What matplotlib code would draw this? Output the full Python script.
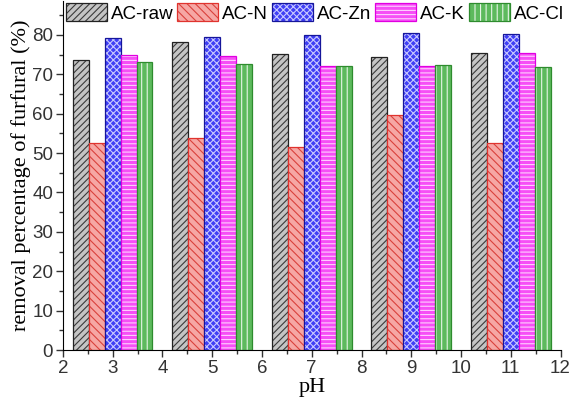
import numpy as np
import matplotlib
matplotlib.use("Agg")
import matplotlib.pyplot as plt
from matplotlib.ticker import MultipleLocator

ph = [3, 5, 7, 9, 11]
ac_raw = [73.7, 78.3, 75.1, 74.3, 75.5]
ac_n = [52.5, 53.8, 51.6, 59.6, 52.6]
ac_zn = [79.2, 79.5, 80.0, 80.5, 80.2]
ac_k = [74.9, 74.6, 72.2, 72.1, 75.5]
ac_cl = [73.0, 72.5, 72.2, 72.4, 71.8]
names = ["AC-raw", "AC-N", "AC-Zn", "AC-K", "AC-Cl"]

# face, hatch colour, edge colour, hatch
styles = [
    ("#c4c4c4", "#3a3a3a", "#222222", "/////"),
    ("#f6a7a4", "#d9413c", "#e0332e", "\\\\\\\\"),
    ("#3f3ff5", "#c8c8ff", "#16169a", "xxxxx"),
    ("#f64ff6", "#ffd0ff", "#e000e0", "----"),
    ("#5dba5d", "#e6f5e6", "#2e8b2e", "|||"),
]

plt.rcParams["font.family"] = ["Liberation Sans", "DejaVu Sans"]
plt.rcParams["hatch.linewidth"] = 0.8

fig = plt.figure(figsize=(5.72, 4.03), dpi=100)
ax = fig.add_axes([0.110, 0.1315, 0.870, 0.865])

w = 0.32
x = np.array(ph, dtype=float)
handles = []
for i, vals in enumerate([ac_raw, ac_n, ac_zn, ac_k, ac_cl]):
    fc, hc, ec, h = styles[i]
    pos = x + (i - 2) * w
    b1 = ax.bar(pos, vals, w, color=fc, edgecolor=hc, hatch=h, linewidth=0)
    b2 = ax.bar(pos, vals, w, fill=False, edgecolor=ec, linewidth=0.9)
    handles.append((b1, b2))

ax.set_xlim(2, 12)
ax.set_ylim(0, 88.5)
ax.xaxis.set_major_locator(MultipleLocator(1))
ax.xaxis.set_minor_locator(MultipleLocator(0.5))
ax.yaxis.set_minor_locator(MultipleLocator(5))
ax.set_yticks(range(0, 81, 10))
ax.spines["top"].set_visible(False)
ax.spines["right"].set_visible(False)
ax.tick_params(which="major", length=5, width=1, labelsize=13.5, pad=2, color="#333333", labelcolor="#333333")
ax.tick_params(which="minor", length=3, width=1, color="#333333")

ax.set_xlabel("pH", family="Liberation Serif", fontsize=16, labelpad=1)
ax.set_ylabel("removal percentage of furfural (%)", family="Liberation Serif", fontsize=16, labelpad=1)

fig.legend(handles, names, loc="upper left", bbox_to_anchor=(0.115, 0.992),
           ncol=5, frameon=False, fontsize=13.5, handlelength=2.2, handleheight=1.1,
           handletextpad=0.2, columnspacing=0.2, borderpad=0, borderaxespad=0)

fig.savefig("out.png", dpi=100)
